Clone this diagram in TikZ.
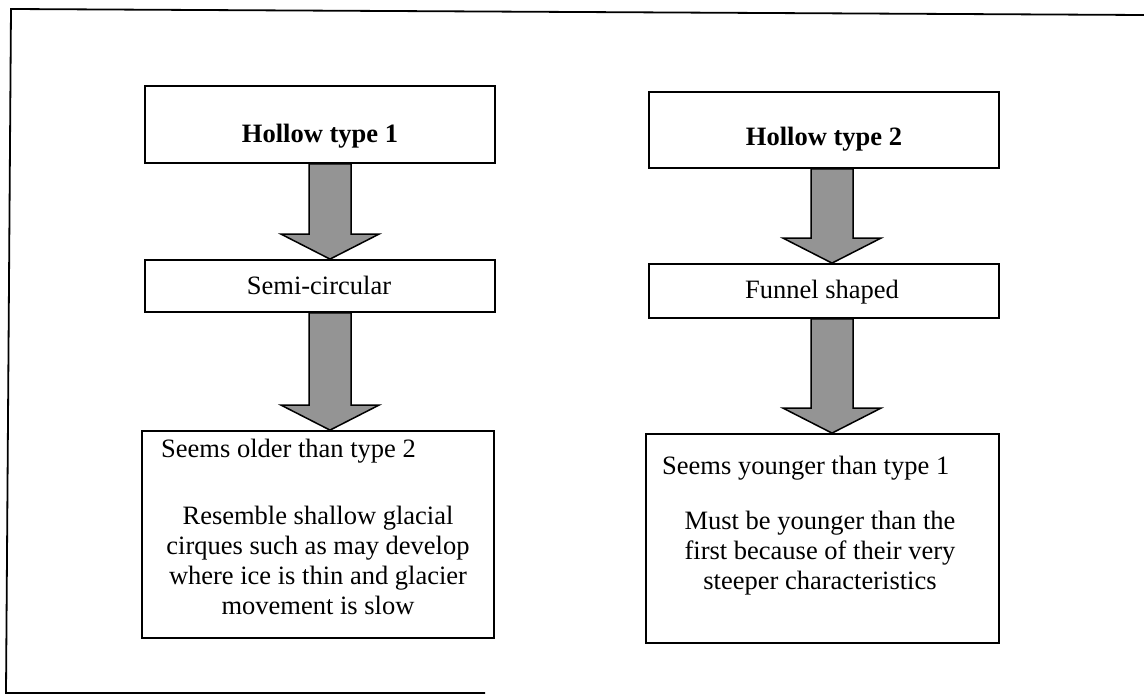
\documentclass[tikz,border=0pt]{standalone}
\usepackage{fontspec}
\setmainfont{Liberation Serif}
\usetikzlibrary{calc}

\tikzset{
  box/.style={draw=black, line width=1.8pt, inner sep=0pt},
  label/.style={inner sep=0pt, font=\fontsize{26.5}{30}\selectfont},
  para/.style={label, align=center},
  blockarrow/.style={draw=black, line width=1.5pt, fill=black!42, line join=miter},
  frame/.style={draw=black, line width=1.8pt}
}

% block arrow from the bottom of box #1 to the top of box #2, centred at x = #3
\newcommand\blockarrow[3]{%
  \path[blockarrow] let \p1=(#1.south), \p2=(#2.north) in
    (#3-21pt,\y1) -- (#3+21pt,\y1) -- (#3+21pt,\y2+25pt) -- (#3+49pt,\y2+25pt)
    -- (#3,\y2) -- (#3-49pt,\y2+25pt) -- (#3-21pt,\y2+25pt) -- cycle;}

\begin{document}
\begin{tikzpicture}[x=1pt, y=-1pt]
  \useasboundingbox (0,0) rectangle (1144,696);

  % outer frame (open on the right)
  \coordinate (fa) at (1144,15);
  \coordinate (fb) at (11,9);
  \coordinate (fc) at (6,693);
  \coordinate (fd) at (485,693);
  \draw[frame] (fa) -- (fb) -- (fc) -- (fd);

  % left column
  \node[box, minimum width=350pt, minimum height=77pt] (h1) at (320,124.5) {};
  \node[label, anchor=base] (h1t) at (320,142) {\textbf{Hollow type 1}};
  \node[box, minimum width=350pt, minimum height=52pt] (s1) at (320,286) {};
  \node[label, anchor=base] (s1t) at (319,294) {Semi-circular};
  \node[box, minimum width=352pt, minimum height=207pt] (o1) at (318,534.5) {};
  \node[label, anchor=base west] (o1a) at (161,457) {Seems older than type 2};
  % anchor=base sits on the last line of a multi-line node
  \node[para, anchor=base] (o1b) at (318,614)
    {Resemble shallow glacial\\cirques such as may develop\\where ice is thin and glacier\\movement is slow};

  % right column
  \node[box, minimum width=350pt, minimum height=76pt] (h2) at (824,130) {};
  \node[label, anchor=base] (h2t) at (824,145) {\textbf{Hollow type 2}};
  \node[box, minimum width=350pt, minimum height=54pt] (s2) at (824,291) {};
  \node[label, anchor=base] (s2t) at (822,298) {Funnel shaped};
  \node[box, minimum width=353pt, minimum height=209pt] (o2) at (822.5,538.5) {};
  \node[label, anchor=base west] (o2a) at (662,474) {Seems younger than type 1};
  \node[para, anchor=base] (o2b) at (820,589)
    {Must be younger than the\\first because of their very\\steeper characteristics};

  % arrows between the boxes
  \blockarrow{h1}{s1}{330pt}
  \blockarrow{s1}{o1}{330pt}
  \blockarrow{h2}{s2}{832pt}
  \blockarrow{s2}{o2}{832pt}
\end{tikzpicture}
\end{document}
